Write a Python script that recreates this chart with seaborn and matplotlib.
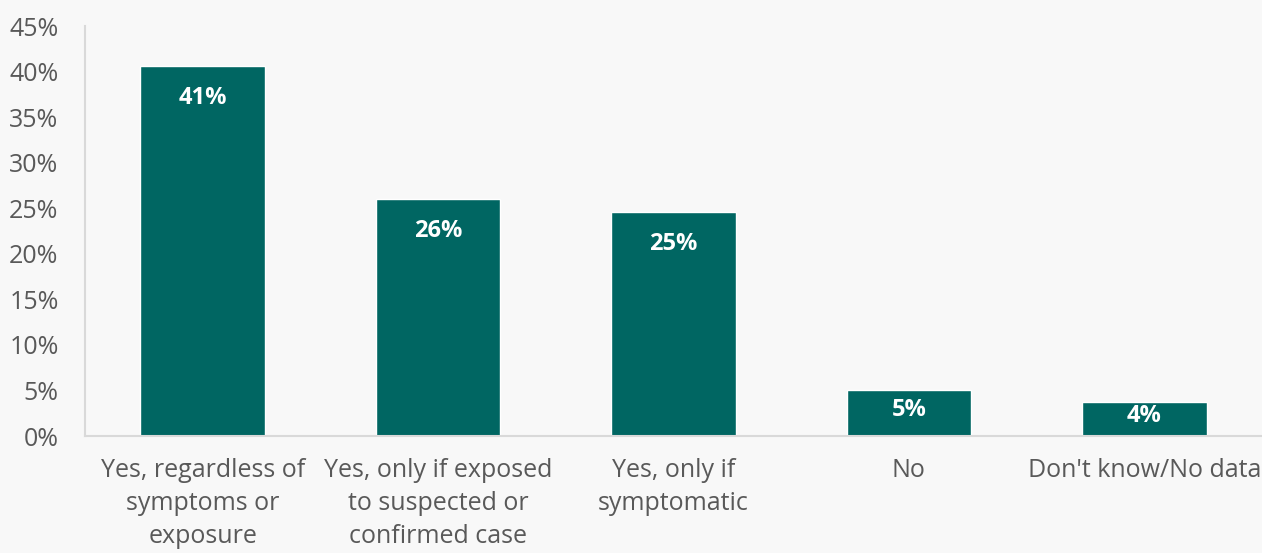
import matplotlib
matplotlib.use("Agg")
import matplotlib.pyplot as plt
import seaborn as sns
import pandas as pd
from matplotlib.ticker import FuncFormatter

categories = ["Yes, regardless of\nsymptoms or\nexposure",
              "Yes, only if exposed\nto suspected or\nconfirmed case",
              "Yes, only if\nsymptomatic",
              "No",
              "Don't know/No data"]
values = [40.6, 26.0, 24.6, 5.1, 3.7]
labels = ["41%", "26%", "25%", "5%", "4%"]
yticks = [0, 5, 10, 15, 20, 25, 30, 35, 40, 45]

sns.set_theme(style="white")
plt.rcParams['font.family'] = ['Open Sans', 'DejaVu Sans']

bg = "#F8F8F8"
fig = plt.figure(figsize=(12.62, 5.53), dpi=100, facecolor=bg)
ax = fig.add_axes([85/1262, 1 - 436/553, (1262 - 85)/1262, (436 - 26)/553])
ax.set_facecolor(bg)

df = pd.DataFrame({"cat": categories, "val": values})
sns.barplot(data=df, x="cat", y="val", color="#006662", saturation=1,
            width=0.53, ax=ax)

for i, (v, lab) in enumerate(zip(values, labels)):
    ypos = max(v - 3.5, v / 2 + 0.35)
    ax.text(i, ypos, lab, ha="center", va="center", color="white",
            fontsize=17, fontweight="bold")

ax.set_ylim(0, 45)
ax.set_xlim(-0.5, 4.5)
ax.set_yticks(yticks)
ax.yaxis.set_major_formatter(FuncFormatter(lambda v, p: f"{int(v)}%"))
ax.set_xlabel("")
ax.set_ylabel("")
ax.tick_params(axis="both", length=0, labelsize=18, colors="#595959")
ax.tick_params(axis="x", pad=16)
ax.tick_params(axis="y", pad=19)
for lab in ax.get_xticklabels():
    lab.set_linespacing(1.42)
for lab in ax.get_yticklabels():
    lab.set_horizontalalignment("right")
for s in ["top", "right"]:
    ax.spines[s].set_visible(False)
for s in ["left", "bottom"]:
    ax.spines[s].set_color("#D9D9D9")
    ax.spines[s].set_linewidth(1.5)
ax.grid(False)

fig.savefig("out.png", dpi=100, facecolor=bg)
